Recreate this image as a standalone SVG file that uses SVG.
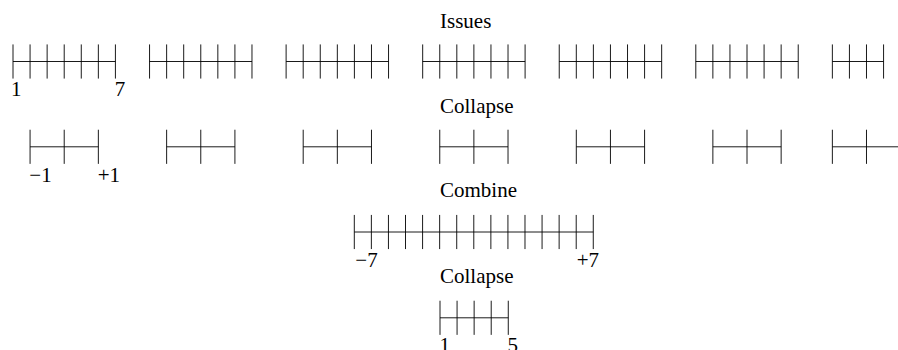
<svg xmlns="http://www.w3.org/2000/svg" xmlns:xlink="http://www.w3.org/1999/xlink" width="898" height="350" viewBox="0 0 898 350">
<style>
  .sc { fill: none; stroke: #000; stroke-width: 0.9; }
  .t { font-family: "Liberation Serif", "Times New Roman", serif; font-size: 21px; fill: #000; }
</style>
<defs>
  <path id="iss6" class="sc" d="M0,0H102.42 M0,-17.07V17.07 M17.07,-17.07V17.07 M34.14,-17.07V17.07 M51.21,-17.07V17.07 M68.28,-17.07V17.07 M85.35,-17.07V17.07 M102.42,-17.07V17.07"/>
  <path id="iss3" class="sc" d="M0,0H51.21 M0,-17.07V17.07 M17.07,-17.07V17.07 M34.14,-17.07V17.07 M51.21,-17.07V17.07"/>
  <path id="col" class="sc" d="M0,0H68.28 M0,-17.07V17.07 M34.14,-17.07V17.07 M68.28,-17.07V17.07"/>
  <path id="comb" class="sc" d="M0,0H238.98 M0,-17.07V17.07 M17.07,-17.07V17.07 M34.14,-17.07V17.07 M51.21,-17.07V17.07 M68.28,-17.07V17.07 M85.35,-17.07V17.07 M102.42,-17.07V17.07 M119.49,-17.07V17.07 M136.56,-17.07V17.07 M153.63,-17.07V17.07 M170.7,-17.07V17.07 M187.77,-17.07V17.07 M204.84,-17.07V17.07 M221.91,-17.07V17.07 M238.98,-17.07V17.07"/>
  <path id="res" class="sc" d="M0,0H68.28 M0,-17.07V17.07 M17.07,-17.07V17.07 M34.14,-17.07V17.07 M51.21,-17.07V17.07 M68.28,-17.07V17.07"/>
</defs>

<g id="titles">
  <text class="t" x="440" y="27.7">Issues</text>
  <text class="t" x="440" y="112.7">Collapse</text>
  <text class="t" x="440" y="197.3">Combine</text>
  <text class="t" x="440" y="283.3">Collapse</text>
</g>

<g id="issues">
  <g id="issue1"><use xlink:href="#iss6" x="13" y="61.5"/>
    <text class="t" x="11" y="95.5">1</text>
    <text class="t" x="114.7" y="95.5">7</text>
  </g>
  <g id="issue2"><use xlink:href="#iss6" x="149.56" y="61.5"/></g>
  <g id="issue3"><use xlink:href="#iss6" x="286.12" y="61.5"/></g>
  <g id="issue4"><use xlink:href="#iss6" x="422.68" y="61.5"/></g>
  <g id="issue5"><use xlink:href="#iss6" x="559.24" y="61.5"/></g>
  <g id="issue6"><use xlink:href="#iss6" x="695.8" y="61.5"/></g>
  <g id="issue7"><use xlink:href="#iss3" x="832.36" y="61.5"/></g>
</g>

<g id="collapsed">
  <g id="collapse1"><use xlink:href="#col" x="30.07" y="146.8"/>
    <text class="t" x="29.3" y="181.7">−1</text>
    <text class="t" x="97.7" y="181.7">+1</text>
  </g>
  <g id="collapse2"><use xlink:href="#col" x="166.63" y="146.8"/></g>
  <g id="collapse3"><use xlink:href="#col" x="303.19" y="146.8"/></g>
  <g id="collapse4"><use xlink:href="#col" x="439.75" y="146.8"/></g>
  <g id="collapse5"><use xlink:href="#col" x="576.31" y="146.8"/></g>
  <g id="collapse6"><use xlink:href="#col" x="712.87" y="146.8"/></g>
  <g id="collapse7"><use xlink:href="#col" x="832.36" y="146.8"/></g>
</g>

<g id="combined">
  <use xlink:href="#comb" x="354.3" y="232"/>
  <text class="t" x="355.3" y="267.3">−7</text>
  <text class="t" x="576.7" y="267.3">+7</text>
</g>

<g id="result">
  <use xlink:href="#res" x="440" y="317.8"/>
  <text class="t" x="439.4" y="352">1</text>
  <text class="t" x="507.6" y="352">5</text>
</g>
</svg>
